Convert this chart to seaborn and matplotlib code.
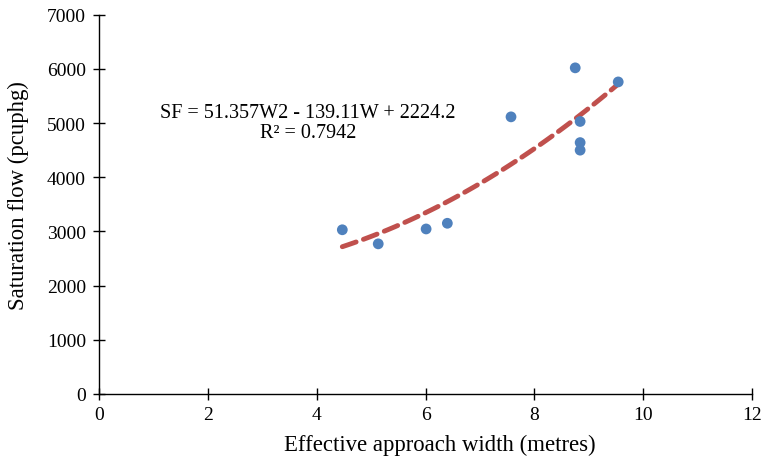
import matplotlib
matplotlib.use("Agg")
import matplotlib.pyplot as plt
import seaborn as sns
import pandas as pd

width_m = [4.47, 5.13, 6.01, 6.40, 7.57, 8.75, 8.84, 8.84, 8.84, 9.54]
sat_flow = [3030, 2770, 3045, 3150, 5115, 6020, 5030, 4640, 4500, 5760]
x_ticks = [0, 2, 4, 6, 8, 10, 12]
y_ticks = [0, 1000, 2000, 3000, 4000, 5000, 6000, 7000]
eq_text = "SF = 51.357W2 - 139.11W + 2224.2\nR² = 0.7942"

df = pd.DataFrame({"w": width_m, "sf": sat_flow})

sns.set_theme(style="white")
plt.rcParams["font.family"] = ["Liberation Serif", "DejaVu Serif"]

fig = plt.figure(figsize=(7.62, 4.64), dpi=100)
ax = fig.add_axes([0.130, 0.149, 0.857, 0.817])

sns.scatterplot(data=df, x="w", y="sf", ax=ax, color="#4F81BD", s=60,
                edgecolor="none", zorder=3)
sns.regplot(data=df, x="w", y="sf", ax=ax, order=2, ci=None, scatter=False,
            line_kws=dict(color="#C0504D", lw=3.5, ls=(0, (3, 1.6)),
                          dash_capstyle="round"))

ax.set_xlim(0, 12)
ax.set_ylim(0, 7000)
ax.set_xticks(x_ticks)
ax.set_yticks(y_ticks)
ax.set_xticklabels([str(t) for t in x_ticks])
ax.set_yticklabels([str(t) for t in y_ticks])
for s in ["top", "right"]:
    ax.spines[s].set_visible(False)
for s in ["left", "bottom"]:
    ax.spines[s].set_color("black")
    ax.spines[s].set_linewidth(1.0)
ax.tick_params(axis="both", direction="inout", length=9, width=1,
               color="black", labelsize=14, labelcolor="black",
               bottom=True, left=True)
ax.tick_params(axis="x", pad=4)
ax.tick_params(axis="y", pad=5)
ax.set_xlabel("Effective approach width (metres)", fontsize=16.4, color="black")
ax.set_ylabel("Saturation flow (pcuphg)", fontsize=16.4, color="black")
ax.xaxis.set_label_coords(0.5225, -0.105)
ax.yaxis.set_label_coords(-0.108, 0.525)

ax.text(3.84, 5010, eq_text, fontsize=14.5, color="black", ha="center",
        va="center", linespacing=1.05)

fig.savefig("out.png", dpi=100)
